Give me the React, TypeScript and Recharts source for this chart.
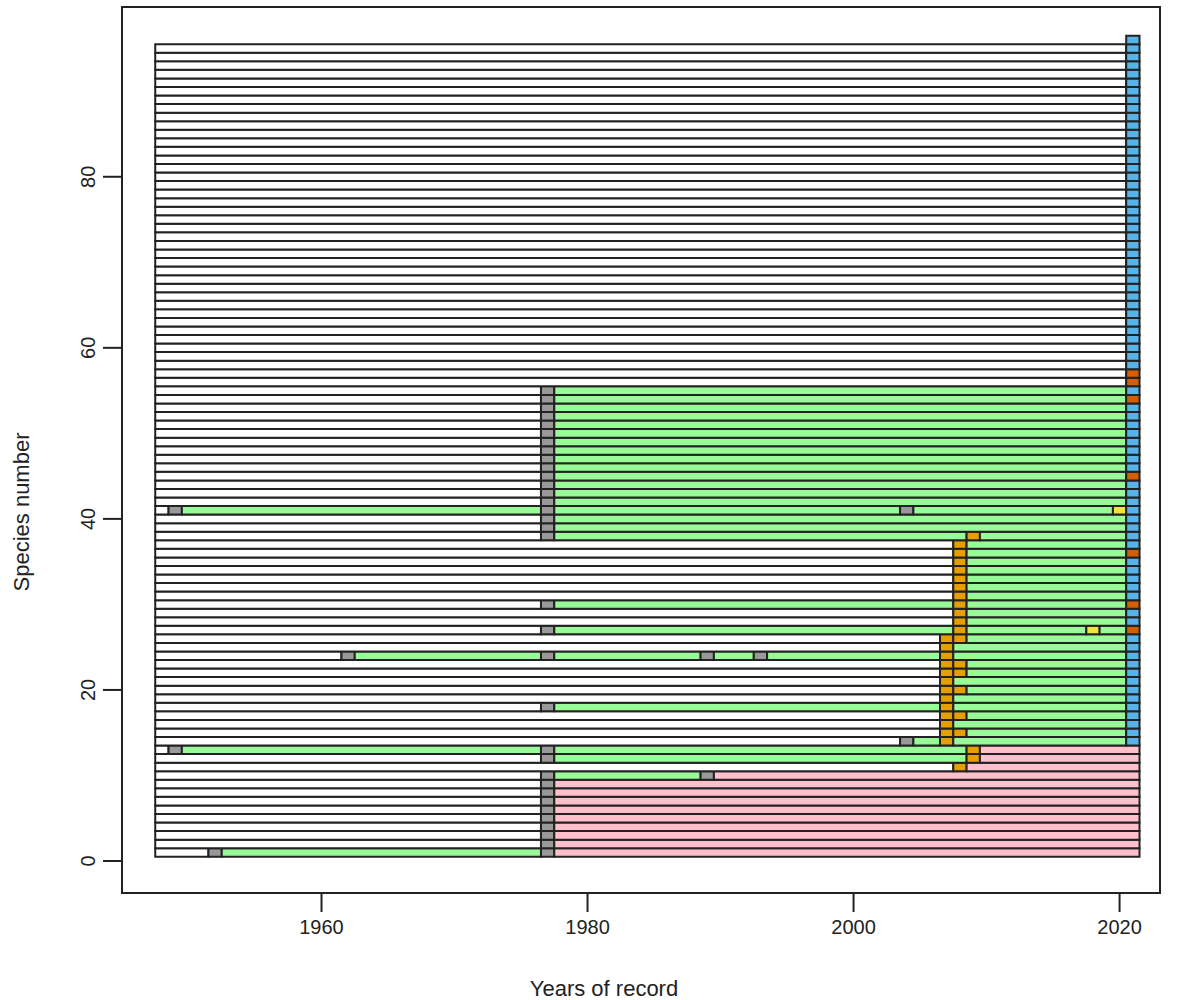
import { ComposedChart, XAxis, YAxis, ReferenceArea, Scatter } from 'recharts'

const lastYear = 2021
const xTicks = [1960, 1980, 2000, 2020]
const yTicks = [0, 20, 40, 60, 80]

// cell codes: w no record, g survey record, p present, o first detection,
// r late record, y single record, b 2021 survey, k pink period
const stateColors: Record<string, string> = {
  w: '#ffffff',
  g: '#999999',
  p: '#98fb98',
  o: '#e69f00',
  r: '#d55e00',
  y: '#f0e442',
  b: '#56b4e9',
  k: '#ffc0cb',
}

// one history per species (1..96): "<year><code>" marks where a state starts
const histories: string[] = [
  '1948w 1952g 1953p 1977g 1978k', // 1
  ...Array(8).fill('1948w 1977g 1978k'), // 2-9
  '1948w 1977g 1978p 1989g 1990k', // 10
  '1948w 2008o 2009k', // 11
  '1948w 1977g 1978p 2009o 2010k', // 12
  '1948w 1949g 1950p 1977g 1978p 2009o 2010k', // 13
  '1948w 2004g 2005p 2007o 2008p 2021b', // 14
  '1948w 2007o 2008o 2009p 2021b', // 15
  '1948w 2007o 2008p 2021b', // 16
  '1948w 2007o 2008o 2009p 2021b', // 17
  '1948w 1977g 1978p 2007o 2008p 2021b', // 18
  '1948w 2007o 2008p 2021b', // 19
  '1948w 2007o 2008o 2009p 2021b', // 20
  '1948w 2007o 2008p 2021b', // 21
  '1948w 2007o 2008o 2009p 2021b', // 22
  '1948w 2007o 2008o 2009p 2021b', // 23
  '1948w 1962g 1963p 1977g 1978p 1989g 1990p 1993g 1994p 2007o 2008p 2021b', // 24
  '1948w 2007o 2008p 2021b', // 25
  '1948w 2007o 2008o 2009p 2021b', // 26
  '1948w 1977g 1978p 2008o 2009p 2018y 2019p 2021r', // 27
  '1948w 2008o 2009p 2021b', // 28
  '1948w 2008o 2009p 2021b', // 29
  '1948w 1977g 1978p 2008o 2009p 2021r', // 30
  ...Array(5).fill('1948w 2008o 2009p 2021b'), // 31-35
  '1948w 2008o 2009p 2021r', // 36
  '1948w 2008o 2009p 2021b', // 37
  '1948w 1977g 1978p 2009o 2010p 2021b', // 38
  '1948w 1977g 1978p 2021b', // 39
  '1948w 1977g 1978p 2021b', // 40
  '1948w 1949g 1950p 1977g 1978p 2004g 2005p 2020y 2021b', // 41
  ...Array(3).fill('1948w 1977g 1978p 2021b'), // 42-44
  '1948w 1977g 1978p 2021r', // 45
  ...Array(8).fill('1948w 1977g 1978p 2021b'), // 46-53
  '1948w 1977g 1978p 2021r', // 54
  '1948w 1977g 1978p 2021b', // 55
  '1948w 2021r', // 56
  '1948w 2021r', // 57
  ...Array(38).fill('1948w 2021b'), // 58-95
  '2021b', // 96
]

type Segment = { species: number; from: number; to: number; state: string }

const segments: Segment[] = []
histories.forEach((h, i) => {
  const steps = h.split(' ').map((s) => ({ year: Number(s.slice(0, 4)), state: s.slice(4) }))
  steps.forEach((s, j) => {
    const to = j + 1 < steps.length ? steps[j + 1].year - 1 : lastYear
    segments.push({ species: i + 1, from: s.year, to, state: s.state })
  })
})

const rowStarts = histories.map((h, i) => ({ year: Number(h.slice(0, 4)), species: i + 1 }))

const ink = '#222222'
const font = '"Liberation Sans", Arial, sans-serif'

const XTick = ({ x, y, payload }: any) => (
  <text x={x} y={y + 20} textAnchor="middle" fontSize={20} fill={ink} fontFamily={font}>
    {payload.value}
  </text>
)

const YTick = ({ x, y, payload }: any) => (
  <text
    x={x - 6}
    y={y}
    transform={`rotate(-90 ${x - 6} ${y})`}
    textAnchor="middle"
    fontSize={20}
    fill={ink}
    fontFamily={font}
  >
    {payload.value}
  </text>
)

export default function App() {
  return (
    <div style={{ position: 'absolute', left: 0, top: 0, background: '#fff' }}>
      <ComposedChart width={1179} height={1000} margin={{ top: 7, right: 19, bottom: 0, left: 0 }}>
        <XAxis
          type="number"
          dataKey="year"
          domain={[1945, 2023.04]}
          ticks={xTicks}
          allowDataOverflow
          height={107}
          tickSize={19}
          axisLine={false}
          tickLine={{ stroke: ink, strokeWidth: 2 }}
          tick={<XTick />}
          label={{
            content: () => (
              <text x={604} y={996} textAnchor="middle" fontSize={22} fill={ink} fontFamily={font}>
                Years of record
              </text>
            ),
          }}
        />
        <YAxis
          type="number"
          dataKey="species"
          domain={[-3.74, 99.85]}
          ticks={yTicks}
          allowDataOverflow
          width={122}
          tickSize={19}
          axisLine={false}
          tickLine={{ stroke: ink, strokeWidth: 2 }}
          tick={<YTick />}
          label={{
            content: () => (
              <text
                x={29}
                y={512}
                transform="rotate(-90 29 512)"
                textAnchor="middle"
                fontSize={22}
                fill={ink}
                fontFamily={font}
              >
                Species number
              </text>
            ),
          }}
        />
        <Scatter data={rowStarts} isAnimationActive={false} shape={() => <g />} />
        {segments.map((s, i) => (
          <ReferenceArea
            key={i}
            x1={s.from - 0.5}
            x2={s.to + 0.5}
            y1={s.species - 0.5}
            y2={s.species + 0.5}
            fill={stateColors[s.state]}
            fillOpacity={1}
            stroke={ink}
            strokeWidth={2}
            ifOverflow="visible"
          />
        ))}
        <ReferenceArea
          x1={1945}
          x2={2023.04}
          y1={-3.74}
          y2={99.85}
          fill="none"
          fillOpacity={0}
          stroke={ink}
          strokeWidth={2}
          ifOverflow="visible"
        />
      </ComposedChart>
    </div>
  )
}
